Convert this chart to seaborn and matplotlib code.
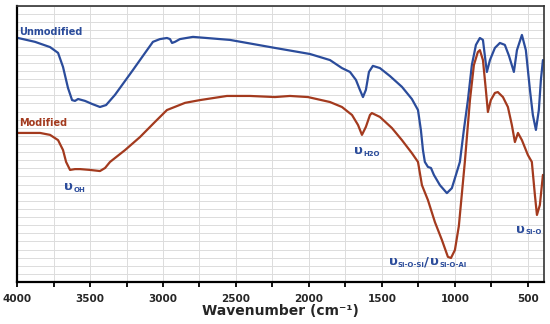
import numpy as np
import pandas as pd
import matplotlib
matplotlib.use("Agg")
import matplotlib.pyplot as plt
import seaborn as sns
from matplotlib.ticker import MultipleLocator

# spectra (wavenumber cm-1, transmittance-ish %)
unmod_wn = [3993, 3877, 3774, 3719, 3685, 3651, 3623, 3603, 3582, 3534, 3486, 3432,
            3390, 3329, 3206, 3123, 3069, 3021, 2973, 2952, 2938, 2918, 2884, 2795,
            2541, 2233, 1993, 1856, 1774, 1719, 1678, 1651, 1630, 1610, 1589, 1562,
            1514, 1445, 1363, 1295, 1253, 1233, 1219, 1206, 1185, 1164, 1144, 1103,
            1055, 1021, 993, 966, 939, 911, 884, 856, 829, 808, 795, 781, 760, 726,
            692, 658, 630, 596, 575, 541, 514, 486, 466, 445, 425, 411, 397]
unmod_t = [88.4, 87.0, 85.1, 83.0, 77.9, 70.3, 65.9, 65.6, 66.3, 65.6, 64.5, 63.4,
           64.1, 67.8, 76.8, 83.0, 87.0, 88.0, 88.4, 88.0, 86.6, 87.0, 88.0, 88.8,
           87.7, 84.8, 82.6, 80.4, 77.5, 76.1, 73.2, 69.6, 67.0, 69.6, 76.1, 78.3,
           77.5, 74.6, 70.7, 66.3, 62.3, 55.0, 47.8, 43.5, 41.7, 41.3, 38.8, 35.1,
           32.2, 34.0, 38.8, 43.5, 55.0, 65.9, 78.6, 85.9, 88.4, 87.7, 82.0, 76.1,
           80.4, 84.8, 86.6, 85.9, 82.0, 76.1, 84.0, 89.5, 84.0, 69.6, 60.5, 55.1,
           62.3, 73.2, 80.4]

mod_wn = [3993, 3842, 3774, 3719, 3685, 3664, 3637, 3603, 3568, 3500, 3432, 3397,
          3363, 3260, 3158, 3055, 2973, 2849, 2747, 2562, 2404, 2233, 2130, 2007,
          1856, 1774, 1705, 1664, 1637, 1610, 1582, 1569, 1514, 1432, 1363, 1295,
          1253, 1226, 1185, 1137, 1089, 1048, 1027, 1000, 973, 932, 897, 870, 843,
          829, 808, 788, 774, 754, 726, 706, 671, 637, 610, 589, 568, 541, 500, 473,
          452, 438, 418, 397]
mod_t = [54.0, 54.0, 53.3, 51.4, 47.8, 43.5, 40.6, 40.9, 40.9, 40.6, 40.2, 41.3,
         43.5, 47.8, 52.5, 58.0, 62.3, 64.9, 65.9, 67.4, 67.4, 67.0, 67.4, 67.0,
         65.2, 63.4, 60.5, 56.9, 53.3, 56.2, 60.5, 61.2, 59.8, 55.8, 51.4, 46.7,
         43.5, 35.1, 29.7, 21.7, 15.2, 9.1, 8.7, 11.6, 20.3, 43.5, 65.9, 78.6, 83.3,
         84.0, 80.4, 69.6, 61.6, 65.9, 68.5, 68.8, 67.0, 63.4, 56.9, 50.7, 54.0,
         51.4, 46.0, 43.5, 31.5, 24.3, 27.9, 38.8]

blue = "#2b4c9b"
red = "#a33a1e"

sns.set_style("white")
plt.rcParams['font.family'] = ['DejaVu Sans']

fig = plt.figure(figsize=(5.5, 3.24), dpi=100)
ax = fig.add_axes([0.031, 0.1296, 0.958, 0.852])

unmod = pd.DataFrame({"wn": unmod_wn, "t": unmod_t})
mod = pd.DataFrame({"wn": mod_wn, "t": mod_t})
sns.lineplot(data=unmod, x="wn", y="t", color=blue, lw=1.6, ax=ax)
sns.lineplot(data=mod, x="wn", y="t", color=red, lw=1.6, ax=ax)

ax.set_xlim(4000, 390)
ax.set_ylim(0, 100)

# grid
ax.xaxis.set_major_locator(MultipleLocator(500))
ax.xaxis.set_minor_locator(MultipleLocator(250))
ax.set_yticks(np.arange(0, 100.01, 100 / 34))
ax.grid(True, which="both", axis="x", color="#dcdcdc", lw=0.7)
ax.grid(True, which="major", axis="y", color="#dcdcdc", lw=0.7)
ax.set_axisbelow(True)
ax.tick_params(axis="y", left=False, labelleft=False)
ax.tick_params(axis="x", which="both", direction="out", length=3.5, width=1.3,
               color="black", bottom=True, labelsize=7.5, pad=5)
for lab in ax.get_xticklabels():
    lab.set_fontweight("bold")

for s in ["left", "bottom"]:
    ax.spines[s].set_color("black")
    ax.spines[s].set_linewidth(1.6)
for s in ["top", "right"]:
    ax.spines[s].set_color("#333333")
    ax.spines[s].set_linewidth(1.2)

ax.set_xlabel("Wavenumber (cm⁻¹)", fontsize=10, fontweight="bold", labelpad=0)
ax.set_ylabel("")

ax.text(3985, 90.5, "Unmodified", color=blue, fontsize=7, fontweight="bold", va="center")
ax.text(3985, 57.5, "Modified", color=red, fontsize=7, fontweight="bold", va="center")


def band(x, y, sub):
    ax.annotate("υ", (x, y), color=blue, fontsize=9.5, fontweight="bold", va="center")
    ax.annotate(sub, (x, y), xytext=(6.8, -2), textcoords="offset points",
                color=blue, fontsize=5, fontweight="bold", va="center")


band(3680, 34.5, "OH")
band(1690, 47.5, "H2O")
band(580, 19, "Si-O")
band(1455, 7.3, "Si-O-Si")
ax.text(1214, 7.3, "/", color=blue, fontsize=9.5, fontweight="bold", va="center")
band(1172, 7.3, "Si-O-Al")

fig.savefig("out.png", dpi=100)
